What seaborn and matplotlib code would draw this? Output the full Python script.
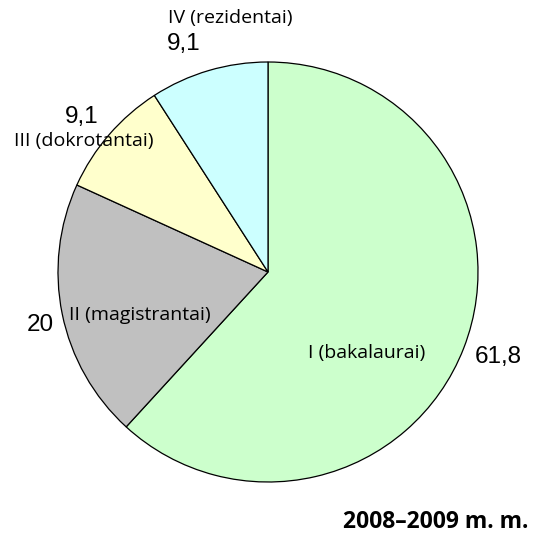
import matplotlib
matplotlib.use("Agg")
import matplotlib.pyplot as plt
import seaborn as sns

# Share of students by study cycle, 2008–2009 academic year (%)
categories = ["I (bakalaurai)", "II (magistrantai)", "III (dokrotantai)", "IV (rezidentai)"]
shares = [61.8, 20.0, 9.1, 9.1]
value_labels = ["61,8", "20", "9,1", "9,1"]
title = "2008–2009 m. m."

colors = ["#CCFFCC", "#C0C0C0", "#FFFFCC", "#CCFFFF"]

sns.set_theme(style="white")
plt.rcParams["font.family"] = ["Open Sans", "DejaVu Sans"]

W, H = 537, 535
fig = plt.figure(figsize=(W / 100, H / 100), dpi=100)
ax = fig.add_axes([0, 0, 1, 1])

cx, cy, r = 268, H - 272, 210
ax.pie(shares, colors=colors, startangle=90, counterclock=False,
       center=(cx, cy), radius=r, frame=True,
       wedgeprops=dict(edgecolor="black", linewidth=0.9))
ax.set_xlim(0, W)
ax.set_ylim(0, H)
ax.set_aspect("equal")
ax.axis("off")

# label placement in pixel coordinates (x, y from top)
name_pos = [(367, 353, "center"), (140, 315, "center"), (84, 141, "center"), (168, 18, "left")]
value_pos = [(498, 357, "center"), (40, 325, "center"), (82, 117, "center"), (167, 44, "left")]

for name, (x, y, ha) in zip(categories, name_pos):
    ax.text(x, H - y, name, ha=ha, va="center", fontsize=14, color="black")
for val, (x, y, ha) in zip(value_labels, value_pos):
    ax.text(x, H - y, val, ha=ha, va="center", fontsize=17.5,
            family=["Liberation Sans", "DejaVu Sans"], color="black")

ax.text(528, H - 522, title, ha="right", va="center", fontsize=16.5,
        fontweight="bold", color="black")

fig.savefig("out.png", dpi=100)
